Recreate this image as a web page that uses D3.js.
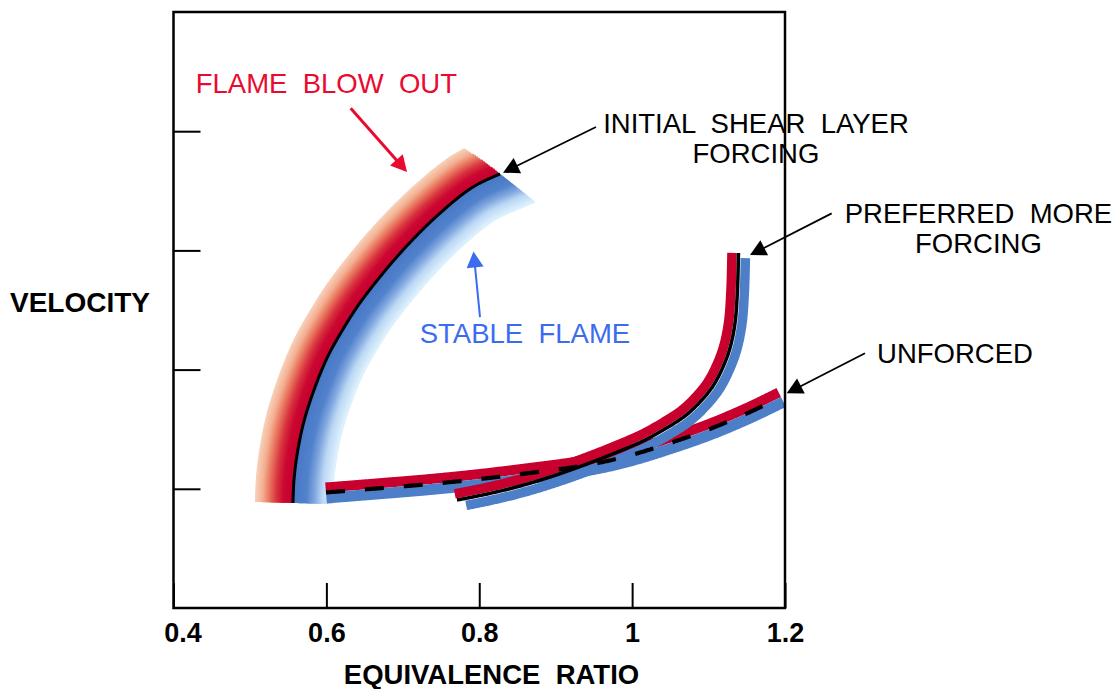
<!DOCTYPE html>
<html>
<head>
<meta charset="utf-8">
<script src="https://cdn.jsdelivr.net/npm/d3@7"></script>
<style>
  body { margin: 0; background: #fff; }
  text { font-family: "Liberation Sans", Arial, Helvetica, sans-serif; white-space: pre; }
</style>
</head>
<body>
<svg id="chart" width="1117" height="689"></svg>
<script>
// ---- axis ticks ----
const xTicks = [0.4, 0.6, 0.8, 1.0, 1.2];
const xTickLabels = ["0.4", "0.6", "0.8", "1", "1.2"];
const yTicks = [1, 2, 3, 4];

// ---- stability boundary: initial shear layer forcing (blow-out side / stable side) ----
const shearPhi = [0.5563, 0.5576, 0.5616, 0.5701, 0.5838, 0.6015, 0.6211, 0.6420, 0.6669, 0.7002, 0.7460, 0.7918, 0.8271];
const shearVel = [0.881, 1.074, 1.284, 1.552, 1.829, 2.106, 2.332, 2.542, 2.752, 3.003, 3.297, 3.532, 3.641];

// ---- preferred more forcing ----
const prefPhi = [0.7709, 0.8101, 0.8533, 0.8965, 0.9410, 0.9841, 1.0168, 1.0430, 1.0692, 1.0888, 1.1058, 1.1189, 1.1280, 1.1346, 1.1378, 1.1391];
const prefVel = [0.906, 0.956, 1.023, 1.107, 1.208, 1.317, 1.409, 1.502, 1.611, 1.728, 1.862, 2.022, 2.181, 2.391, 2.668, 2.978];

// ---- unforced ----
const unfPhi = [0.5995, 0.6662, 0.7355, 0.8009, 0.8663, 0.9252, 0.9645, 1.0037, 1.0495, 1.1018, 1.1541, 1.1947];
const unfVel = [0.969, 1.003, 1.040, 1.082, 1.133, 1.183, 1.229, 1.292, 1.384, 1.502, 1.644, 1.770];

// ---- annotations: label lines and arrows (start -> tip, in axis units) ----
const noteLines = [
  ["FLAME  BLOW  OUT"],
  ["INITIAL  SHEAR  LAYER", "FORCING"],
  ["PREFERRED  MORE", "FORCING"],
  ["UNFORCED"],
  ["STABLE  FLAME"]
];
const noteAt   = [[0.600, 4.323], [1.162, 3.989], [1.4531, 3.232], [1.4224, 2.055], [0.8598, 2.226]];
const noteKind = ["blowout", "plain", "plain", "plain", "stable"];
const arrowFrom = [[0.6318, 4.192], [0.9527, 4.035], [1.2611, 3.311], [1.3046, 2.137], [0.8010, 2.441]];
const arrowTo   = [[0.7055, 3.658], [0.8311, 3.652], [1.1542, 2.961], [1.2022, 1.801], [0.7925, 2.991]];

const xTitle = "EQUIVALENCE  RATIO";
const yTitle = "VELOCITY";

// ---- layout ----
const svg = d3.select("#chart");
const W = 1117, H = 689;
const plot = { left: 173.5, right: 785, top: 12, bottom: 608 };

const x = d3.scaleLinear().domain([0.4, 1.2]).range([plot.left, plot.right]);
const y = d3.scaleLinear().domain([0, 5]).range([plot.bottom, plot.top]);

const RED = "#c8002e", BLUE = "#4d7fc9";
const NOTE_RED = "#ea0a30", NOTE_BLUE = "#3b6cf0";

svg.append("rect").attr("width", W).attr("height", H).attr("fill", "#fff");

// sample a smooth curve through the points, with unit tangents / normals
function sampleCurve(xs, ys) {
  const pts = xs.map((v, i) => [x(v), y(ys[i])]);
  const tmp = svg.append("path")
    .attr("d", d3.line().curve(d3.curveCatmullRom.alpha(0.5))(pts))
    .attr("fill", "none").attr("stroke", "none");
  const node = tmp.node();
  const L = node.getTotalLength();
  const n = Math.ceil(L);
  const raw = [];
  for (let i = 0; i <= n; i++) {
    const p = node.getPointAtLength(L * i / n);
    raw.push([p.x, p.y]);
  }
  tmp.remove();
  const k = 5;
  return raw.map((p, i) => {
    const a = raw[Math.max(0, i - k)], b = raw[Math.min(raw.length - 1, i + k)];
    let tx = b[0] - a[0], ty = b[1] - a[1];
    const m = Math.hypot(tx, ty) || 1;
    tx /= m; ty /= m;
    return { x: p[0], y: p[1], tx, ty, nx: -ty, ny: tx };
  });
}

// curve shifted sideways by d px; trims (>0) or extends (<0) each end by px
function offsetPoints(s, d, trimStart = 0, trimEnd = 0) {
  let pts = s.map(p => [p.x + p.nx * d, p.y + p.ny * d]);
  const first = s[0], last = s[s.length - 1];
  if (trimStart > 0) pts = pts.slice(Math.round(trimStart));
  if (trimEnd > 0) pts = pts.slice(0, pts.length - Math.round(trimEnd));
  if (trimStart < 0) {
    const p = pts[0];
    pts.unshift([p[0] + first.tx * trimStart, p[1] + first.ty * trimStart]);
  }
  if (trimEnd < 0) {
    const p = pts[pts.length - 1];
    pts.push([p[0] - last.tx * trimEnd, p[1] - last.ty * trimEnd]);
  }
  return pts;
}

const lineGen = d3.line();
const gMarks = svg.append("g");

// ---- shaded boundary band: blow-out (red, outer) / stable (blue, inner) ----
const shear = sampleCurve(shearPhi, shearVel);
const bandColor = d3.scaleLinear()
  .domain([-37, -30, -24, -16, -9, 0, 0.01, 14, 22, 30, 39])
  .range(["#f8d0b8", "#f3b093", "#ea7c62", "#d8333f", "#cb0832", "#c8002e",
          "#4878c6", "#5282cb", "#80a7df", "#bcd8f4", "#dcf0fd"])
  .interpolate(d3.interpolateRgb);
const bandOffsets = d3.range(-37, 39.5, 1);
gMarks.append("g").selectAll("path")
  .data(bandOffsets)
  .join("path")
  .attr("d", d => lineGen(offsetPoints(shear, d, 0, -0.55 * d)))
  .attr("fill", "none")
  .attr("stroke", d => bandColor(d))
  .attr("stroke-width", 2.2)
  .attr("stroke-linecap", "butt");
gMarks.append("path")
  .attr("d", lineGen(offsetPoints(shear, 0)))
  .attr("fill", "none").attr("stroke", "#000").attr("stroke-width", 3);

// ---- unforced and preferred-forcing limits ----
const unf = sampleCurve(unfPhi, unfVel);
const pref = sampleCurve(prefPhi, prefVel);

gMarks.append("path").attr("d", lineGen(offsetPoints(unf, -5)))
  .attr("fill", "none").attr("stroke", RED).attr("stroke-width", 10);
gMarks.append("path").attr("d", lineGen(offsetPoints(unf, 5.5)))
  .attr("fill", "none").attr("stroke", BLUE).attr("stroke-width", 11);

gMarks.append("path").attr("d", lineGen(offsetPoints(pref, -6.5, -1, 0)))
  .attr("fill", "none").attr("stroke", RED).attr("stroke-width", 9.5);
gMarks.append("path").attr("d", lineGen(offsetPoints(pref, 7, 8, 5)))
  .attr("fill", "none").attr("stroke", BLUE).attr("stroke-width", 9.5);
gMarks.append("path").attr("d", lineGen(offsetPoints(pref, 0)))
  .attr("fill", "none").attr("stroke", "#000").attr("stroke-width", 3.5);

gMarks.append("path").attr("d", lineGen(offsetPoints(unf, 0, 0, 4)))
  .attr("fill", "none").attr("stroke", "#000").attr("stroke-width", 4.2)
  .attr("stroke-dasharray", "19,20");

// ---- axes / frame ----
const xAxis = d3.axisBottom(x).tickValues(xTicks).tickSizeInner(-25).tickSizeOuter(0)
  .tickFormat((d, i) => xTickLabels[i]).tickPadding(0);
const gx = svg.append("g").attr("transform", `translate(0,${plot.bottom})`).call(xAxis);
gx.select(".domain").remove();
gx.selectAll(".tick line").attr("stroke", "#000").attr("stroke-width", 2);
gx.selectAll(".tick text")
  .attr("y", 34).attr("dy", null)
  .attr("x", (d, i) => i === 0 ? 9 : 0)
  .attr("fill", "#000")
  .style("font-size", "27px").style("font-weight", "bold")
  .style("font-family", "'Liberation Sans', Arial, Helvetica, sans-serif");

const yAxis = d3.axisLeft(y).tickValues(yTicks).tickSizeInner(-27).tickSizeOuter(0).tickFormat("");
const gy = svg.append("g").attr("transform", `translate(${plot.left},0)`).call(yAxis);
gy.select(".domain").remove();
gy.selectAll(".tick line").attr("stroke", "#000").attr("stroke-width", 2);

svg.append("rect")
  .attr("x", plot.left).attr("y", plot.top)
  .attr("width", plot.right - plot.left).attr("height", plot.bottom - plot.top)
  .attr("fill", "none").attr("stroke", "#000").attr("stroke-width", 2.5);

// ---- axis titles ----
svg.append("text")
  .attr("x", 491.5).attr("y", 684)
  .attr("text-anchor", "middle")
  .style("font-size", "27.5px").style("font-weight", "bold")
  .text(xTitle);
svg.append("text")
  .attr("x", 10).attr("y", 312)
  .style("font-size", "28px").style("font-weight", "bold")
  .text(yTitle);

// ---- annotation arrows ----
function arrow(from, to, color, width, headLen, headHalf) {
  const x1 = x(from[0]), y1 = y(from[1]), x2 = x(to[0]), y2 = y(to[1]);
  const dx = x2 - x1, dy = y2 - y1, m = Math.hypot(dx, dy);
  const ux = dx / m, uy = dy / m;
  const bx = x2 - ux * headLen, by = y2 - uy * headLen;
  svg.append("line")
    .attr("x1", x1).attr("y1", y1).attr("x2", bx + ux * 2).attr("y2", by + uy * 2)
    .attr("stroke", color).attr("stroke-width", width);
  svg.append("path")
    .attr("d", `M${x2},${y2}L${bx - uy * headHalf},${by + ux * headHalf}L${bx + uy * headHalf},${by - ux * headHalf}Z`)
    .attr("fill", color);
}
const arrowColor = { blowout: NOTE_RED, plain: "#000", stable: NOTE_BLUE };
const arrowWidth = { blowout: 3, plain: 1.8, stable: 2 };
arrowFrom.forEach((f, i) => {
  const k = noteKind[i];
  arrow(f, arrowTo[i], arrowColor[k], arrowWidth[k], 16, 8.5);
});

// ---- annotation labels ----
const noteColor = { blowout: NOTE_RED, plain: "#000", stable: NOTE_BLUE };
noteLines.forEach((lines, i) => {
  const t = svg.append("text")
    .attr("x", x(noteAt[i][0])).attr("y", y(noteAt[i][1]))
    .attr("text-anchor", "middle")
    .attr("fill", noteColor[noteKind[i]])
    .style("font-size", "27.5px");
  lines.forEach((s, j) => {
    t.append("tspan").attr("x", x(noteAt[i][0])).attr("dy", j === 0 ? 0 : 30).text(s);
  });
});
</script>
</body>
</html>
